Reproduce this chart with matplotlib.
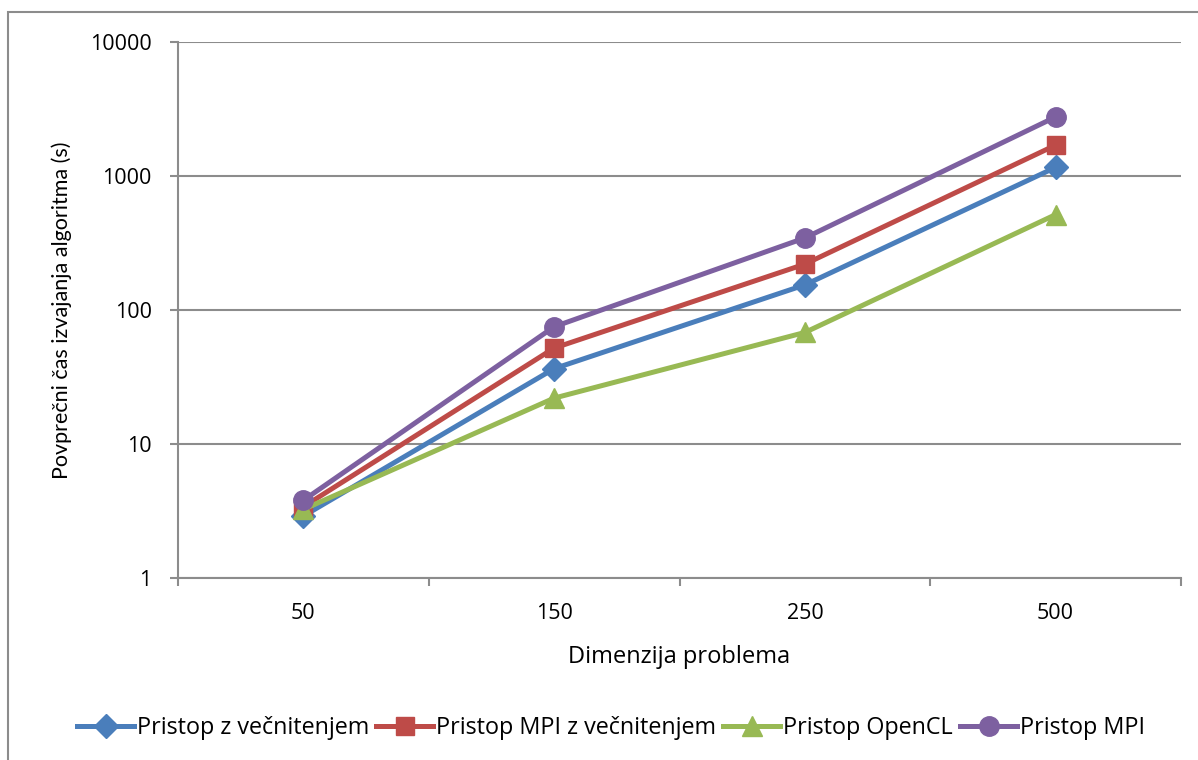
import numpy as np
import matplotlib.pyplot as plt
from matplotlib.patches import Rectangle
from matplotlib.ticker import FixedLocator, NullFormatter

plt.rcParams['font.family'] = ['Open Sans', 'DejaVu Sans']

dims = ['50', '150', '250', '500']
t_threads = [2.9, 36.5, 154, 1160]
t_mpi_threads = [3.4, 52, 220, 1700]
t_opencl = [3.25, 22, 68, 515]
t_mpi = [3.8, 75, 345, 2760]

series = [
    ('Pristop z večnitenjem', t_threads, '#4A7EBB', 'D', 12),
    ('Pristop MPI z večnitenjem', t_mpi_threads, '#BE4B48', 's', 13),
    ('Pristop OpenCL', t_opencl, '#98B954', '^', 14),
    ('Pristop MPI', t_mpi, '#7D60A0', 'o', 14),
]

fig = plt.figure(figsize=(11.98, 7.6), dpi=100)
ax = fig.add_axes([0.1486, 0.2395, 0.8372, 0.7052])

x = np.arange(len(dims))
for label, vals, col, mk, ms in series:
    ax.plot(x, vals, color=col, lw=3.6, marker=mk, markersize=ms,
            markeredgecolor=col, label=label, zorder=3)

grid_col = '#8C8C8C'
ax.set_yscale('log')
ax.set_ylim(1, 10000)
ax.set_yticks([1, 10, 100, 1000, 10000])
ax.set_yticklabels(['1', '10', '100', '1000', '10000'])
ax.yaxis.set_minor_locator(FixedLocator([]))
ax.grid(axis='y', color=grid_col, lw=1.5, zorder=0)

ax.set_xlim(-0.5, 3.5)
ax.set_xticks(x)
ax.set_xticklabels(dims)
ax.xaxis.set_minor_locator(FixedLocator(np.arange(-0.5, 4, 1.0)))
ax.xaxis.set_minor_formatter(NullFormatter())

ax.tick_params(axis='x', which='major', length=0, pad=18, labelsize=15.5)
ax.tick_params(axis='x', which='minor', length=6, width=1.5, color=grid_col, direction='out')
ax.tick_params(axis='y', which='major', length=6, width=1.5, color=grid_col, pad=13, labelsize=15.5)

for s in ['top', 'right']:
    ax.spines[s].set_visible(False)
for s in ['left', 'bottom']:
    ax.spines[s].set_color(grid_col)
    ax.spines[s].set_linewidth(1.5)

ax.set_xlabel('Dimenzija problema', fontsize=17)
ax.xaxis.set_label_coords(0.5, -0.125)
# vertical label is narrower in the original, use Lato here
ax.set_ylabel('Povprečni čas izvajanja algoritma (s)', fontsize=15.5,
              family=['Lato', 'DejaVu Sans'])
ax.yaxis.set_label_coords(-0.106, 0.5)

fig.legend(loc='center', bbox_to_anchor=(0.51, 0.042), ncol=4, frameon=False,
           fontsize=16.8, handlelength=2.45, handletextpad=0.12, columnspacing=0.3)

# outer chart border
fig.patches.append(Rectangle((8 / 1198, -0.05), 1.2, (760 - 12) / 760 + 0.05,
                             transform=fig.transFigure, fill=False,
                             edgecolor=grid_col, lw=1.5))

fig.savefig('out.png', dpi=100)
